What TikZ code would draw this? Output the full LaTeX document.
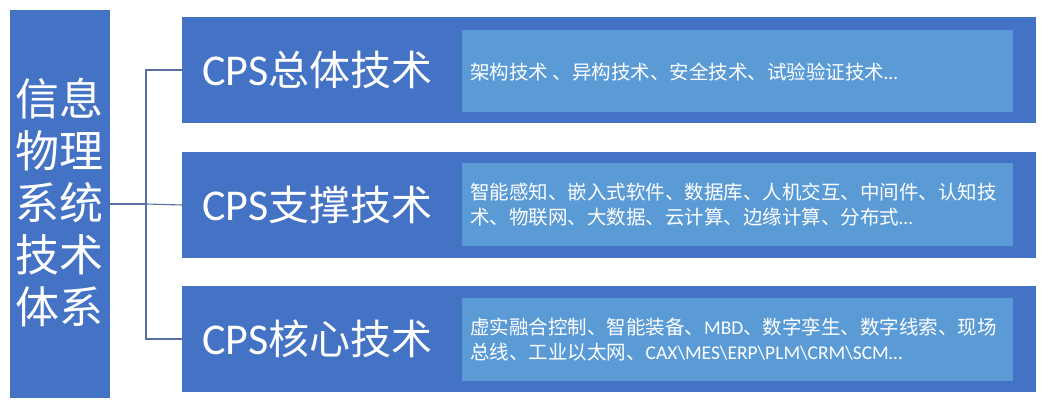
\documentclass[tikz,border=0pt]{standalone}
\usepackage{fontspec}
\setmainfont{Noto Sans CJK SC}
\newfontfamily\lat{Carlito}
\definecolor{outerblue}{HTML}{4472C4}
\definecolor{innerblue}{HTML}{5B9BD5}
\definecolor{linkcol}{HTML}{5A6E9E}
\begin{document}
\begin{tikzpicture}[x=1pt,y=-1pt,
  outerbox/.style={fill=outerblue,draw=none,inner sep=0pt,outer sep=0pt},
  innerbox/.style={fill=innerblue,draw=none,inner sep=0pt,outer sep=0pt},
  headtext/.style={text=white,font=\fontsize{41}{44}\selectfont,anchor=west,inner sep=0pt},
  bodytext/.style={text=white,font=\fontsize{19.5}{25}\selectfont,anchor=west,align=left,inner sep=0pt},
  link/.style={draw=linkcol,line width=1.1pt}]
\useasboundingbox (0,0) rectangle (1042,403);
\fill[white] (0,0) rectangle (1042,403);
% left box
\node[outerbox,minimum width=100pt,minimum height=388pt] (L) at (60,204) {};
\node[text=white,font=\fontsize{44}{52}\selectfont,align=center,inner sep=0pt] (Lt) at (60,203)
  {信息\\物理\\系统\\技术\\体系};
% outer boxes
\node[outerbox,minimum width=854pt,minimum height=106pt] (A) at (609,70) {};
\node[outerbox,minimum width=854pt,minimum height=106pt] (B) at (609,205) {};
\node[outerbox,minimum width=854pt,minimum height=106pt] (C) at (609,339) {};
% inner boxes
\node[innerbox,minimum width=551pt,minimum height=82pt] (Ai) at (737.5,71) {};
\node[innerbox,minimum width=551pt,minimum height=83pt] (Bi) at (737.5,205) {};
\node[innerbox,minimum width=551pt,minimum height=83pt] (Ci) at (737.5,340) {};
% heading texts
\node[headtext] (At) at (202,70) {{\lat\fontsize{44}{44}\selectfont CPS}总体技术};
\node[headtext] (Bt) at (202,205) {{\lat\fontsize{44}{44}\selectfont CPS}支撑技术};
\node[headtext] (Ct) at (202,339) {{\lat\fontsize{44}{44}\selectfont CPS}核心技术};
% body texts
\node[bodytext] (Ab) at (470,72) {架构技术 、异构技术、安全技术、试验验证技术{\lat …}};
\node[bodytext] (Bb) at (470,205) {智能感知、嵌入式软件、数据库、人机交互、中间件、认知技\\术、物联网、大数据、云计算、边缘计算、分布式{\lat …}};
\node[bodytext] (Cb) at (470,340) {虚实融合控制、智能装备、{\lat MBD}、数字孪生、数字线索、现场\\总线、工业以太网、{\lat CAX\textbackslash MES\textbackslash ERP\textbackslash PLM\textbackslash CRM\textbackslash SCM…}};
% connectors
\coordinate (J) at (146,204);
\draw[link] (L.east) -- (J);
\draw[link] (J) |- (A.west);
\draw[link] (J) -- (B.west);
\draw[link] (J) |- (C.west);
\end{tikzpicture}
\end{document}
